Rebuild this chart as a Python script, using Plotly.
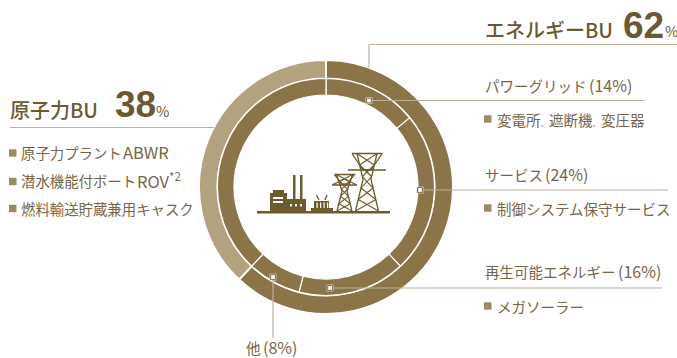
import plotly.graph_objects as go

W, H = 677, 358
DARK = "#8a7448"
LIGHT = "#b3a27f"
LINE = "#bdb19a"
HEAD = "#6b5a30"
BODY = "#75664a"
ICON = "#6f5a2c"
BULLET = "#9a8a66"
JP = "Noto Sans CJK JP"
NUM = "Liberation Sans"

# Business unit split (outer ring) and segment split (inner ring)
bu_names = ["エネルギーBU", "原子力BU"]
bu_share = [62, 38]
seg_names = ["パワーグリッド", "サービス", "再生可能エネルギー", "他", "原子力"]
seg_share = [14, 24, 16, 8, 38]

nuclear_items = [("原子力プラント", "ABWR"), ("潜水機能付ボート", "ROV<sup>*2</sup>"), ("燃料輸送貯蔵兼用キャスク", "")]
grid_items = ["変電所", "遮断機", "変圧器"]
service_items = ["制御システム保守サービス"]
renew_items = ["メガソーラー"]

CX, CY = 326, 187


def px(x):
    return x / W


def py(y):
    return 1 - y / H


def ring(values, colors, r_out, r_in, gap):
    return go.Pie(
        values=values, sort=False, direction="clockwise", rotation=0,
        hole=r_in / r_out, textinfo="none", hoverinfo="skip", showlegend=False,
        marker=dict(colors=colors, line=dict(color="white", width=gap)),
        domain=dict(x=[px(CX - r_out), px(CX + r_out)], y=[py(CY + r_out), py(CY - r_out)]),
    )


fig = go.Figure()
fig.add_trace(ring(bu_share, [DARK, LIGHT], 127, 108.5, 2))
fig.add_trace(ring(seg_share, [DARK] * 5, 108.5, 92, 1.2))

shapes = []


def hline(x0, x1, y):
    shapes.append(dict(type="line", xref="paper", yref="paper", x0=px(x0), x1=px(x1), y0=py(y), y1=py(y),
                       line=dict(color=LINE, width=1.2)))


def vline(x, y0, y1):
    shapes.append(dict(type="line", xref="paper", yref="paper", x0=px(x), x1=px(x), y0=py(y0), y1=py(y1),
                       line=dict(color=LINE, width=1.2)))


def box(x, y, half, fill):
    shapes.append(dict(type="rect", xref="paper", yref="paper", x0=px(x - half), x1=px(x + half),
                       y0=py(y + half), y1=py(y - half), fillcolor=fill, line=dict(width=0)))


def marker_box(x, y):
    # Small anchor square: light rim, dark outline, white centre
    box(x, y, 3.4, "#e4ded2")
    box(x, y, 2.8, "#6f6143")
    box(x, y, 1.9, "#ffffff")


def bullet(x, y):
    shapes.append(dict(type="rect", xref="paper", yref="paper", x0=px(x), x1=px(x + 7.5),
                       y0=py(y + 3.7), y1=py(y - 3.7), fillcolor=BULLET, line=dict(width=0)))


def icon_path(points, fill=None, stroke=1.2, color=ICON):
    d = "M" + " L".join(f"{px(a):.5f},{py(b):.5f}" for a, b in points)
    if fill:
        d += " Z"
    shapes.append(dict(type="path", xref="paper", yref="paper", path=d,
                       fillcolor=fill if fill else "rgba(0,0,0,0)",
                       line=dict(color=color, width=stroke if stroke else 0)))


def icon_rect(x0, y0, x1, y1, color=ICON):
    icon_path([(x0, y0), (x1, y0), (x1, y1), (x0, y1)], fill=color, stroke=0, color=color)


def waist_y(top, bottom):
    return top + (bottom - top) * 0.45


def leg_half(y, top, bottom, half_top, half_base, waist):
    wy = waist_y(top, bottom)
    if y <= wy:
        return half_top + (waist - half_top) * (y - top) / (wy - top)
    return waist + (half_base - waist) * (y - wy) / (bottom - wy)


def tower(cx, top, bottom, half_top, half_base, arm1, arm2, arm_w1, arm_w2, waist):
    # Lattice pylon: two legs, cross-arms and zigzag bracing
    icon_path([(cx - half_top, top), (cx - waist, waist_y(top, bottom)), (cx - half_base, bottom)], stroke=1.3)
    icon_path([(cx + half_top, top), (cx + waist, waist_y(top, bottom)), (cx + half_base, bottom)], stroke=1.3)
    icon_path([(cx - arm_w1, top), (cx + arm_w1, top), (cx + waist, arm1), (cx - waist, arm1), (cx - arm_w1, top)], stroke=1.3)
    if arm2 is not None:
        icon_path([(cx - waist, arm1), (cx - arm_w2, arm2), (cx + arm_w2, arm2), (cx + waist, arm1)], stroke=1.3)
    levels = 5
    ys = [top + (bottom - top) * i / levels for i in range(levels + 1)]
    for i in range(levels):
        y0, y1 = ys[i], ys[i + 1]
        w0 = leg_half(y0, top, bottom, half_top, half_base, waist)
        w1 = leg_half(y1, top, bottom, half_top, half_base, waist)
        icon_path([(cx - w0, y0), (cx + w1, y1)], stroke=1.1)
        icon_path([(cx + w0, y0), (cx - w1, y1)], stroke=1.1)


# Leader lines from the rings to the captions
hline(369, 677, 44.5)
vline(369, 44.5, 68)
hline(369, 645, 100.5)
hline(420, 668, 190)
hline(330, 662, 288)
vline(273, 277, 338)
hline(10, 214, 127.5)
marker_box(369, 100.5)
marker_box(420, 190)
marker_box(330, 288)
marker_box(273, 277)

# Power-plant pictogram in the middle of the ring
icon_rect(257, 211, 390, 213.5)
icon_rect(270, 193, 287, 212)
icon_rect(273, 190, 284, 193)
icon_rect(287, 199, 306, 212)
icon_rect(293, 175, 295.5, 199)
icon_rect(300, 175, 302.5, 199)
icon_rect(273, 197, 283, 199, color="#ffffff")
icon_rect(273, 201, 283, 203, color="#ffffff")
for wx in (290, 295, 300):
    icon_rect(wx, 204, wx + 2, 206.5, color="#ffffff")
icon_rect(311, 208, 333, 212)
icon_rect(314, 201, 329, 208.5)
for wx in (316.5, 320, 323.5, 327):
    icon_rect(wx, 202.5, wx + 1.2, 208, color="#ffffff")
icon_path([(319, 200), (316.5, 195)], stroke=1.3)
icon_path([(325, 200), (327, 195)], stroke=1.3)
tower(344.5, 174.5, 211, 8, 7.5, 184, None, 10, 0, 2.5)
icon_path([(332, 185), (344.5, 179), (357, 185), (332, 185)], stroke=1.3)
tower(367, 153.5, 211, 10, 11.5, 170, 170, 15, 19, 4)

for x, y in [(9, 153), (9, 181.5), (9, 208.5), (484, 119), (484, 208), (484, 306)]:
    bullet(x, y)

ann = []


def label(x, y, text, size, color=BODY, family=JP, weight=400):
    ann.append(dict(xref="paper", yref="paper", x=px(x), y=py(y), text=text, showarrow=False,
                    xanchor="left", yanchor="middle", align="left",
                    font=dict(size=size, color=color, family=family, weight=weight)))


def caption(x, y, name, pct):
    # Name and percentage are set apart so the half-width brackets keep their spacing
    label(x, y, name, 14.5)
    label(x + len(name) * 14.45 + 3, y - 0.5, f"({pct}%)", 16)


label(483, 29, bu_names[0], 20, HEAD, weight=500)
label(620.5, 26, f"{bu_share[0]}", 37, HEAD, NUM, weight=700)
label(662.5, 31, "%", 14.5, HEAD)
label(8, 109, bu_names[1], 20, HEAD, weight=500)
label(113, 105, f"{bu_share[1]}", 37, HEAD, NUM, weight=700)
label(154, 111, "%", 14.5, HEAD)

caption(482.5, 85.5, seg_names[0], seg_share[0])
# The ideographic commas are set small so the phrase closes up to its tight setting
comma = '<span style="font-size:8.5px">、</span>'
label(494.5, 119, comma.join(grid_items), 14.5)
caption(482.5, 174.5, seg_names[1], seg_share[1])
label(494.5, 208, service_items[0], 14.5)
caption(482.5, 271, seg_names[2], seg_share[2])
label(494.5, 306, renew_items[0], 14.5)
caption(243.5, 347.5, seg_names[3], seg_share[3])
for (jp_text, latin), y in zip(nuclear_items, (152.5, 180.5, 208)):
    label(19, y, jp_text, 14.4)
    if latin:
        label(19 + len(jp_text) * 14.3 + 1.5, y - 0.5, latin, 16.5)

fig.update_layout(width=W, height=H, margin=dict(l=0, r=0, t=0, b=0), paper_bgcolor="white",
                  plot_bgcolor="white", shapes=shapes, annotations=ann, showlegend=False)
fig.write_html("out.html", config=dict(displayModeBar=False))
